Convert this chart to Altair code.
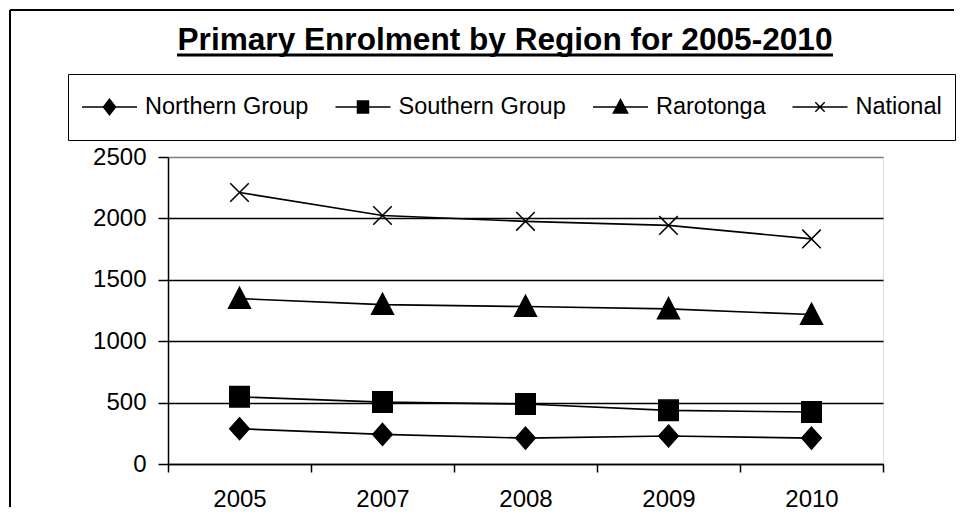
import altair as alt
import pandas as pd

# ---- data ----
years = ["2005", "2007", "2008", "2009", "2010"]
series = ["Northern Group", "Southern Group", "Rarotonga", "National"]
northern = [287, 241, 211, 228, 211]
southern = [547, 504, 488, 437, 423]
rarotonga = [1347, 1298, 1282, 1263, 1217]
national = [2211, 2024, 1976, 1943, 1833]
y_ticks = [0, 500, 1000, 1500, 2000, 2500]
title_text = "Primary Enrolment by Region for 2005-2010"

# marker shapes (plot) and legend symbols (line + marker)
marker_paths = [
    "M0,-1.12L1,0L0,1.12L-1,0Z",
    "M-1,-1.05H1V1.05H-1Z",
    "M0,-1.15L1.12,1L-1.12,1Z",
    "M-0.95,-0.95L0.95,0.95M-0.95,0.95L0.95,-0.95",
]
legend_paths = [
    "M-1,0H1M0,-0.28L0.22,0L0,0.28L-0.22,0Z",
    "M-1,0H1M-0.2,-0.22H0.2V0.22H-0.2Z",
    "M-1,0H1M0,-0.27L0.26,0.22L-0.26,0.22Z",
    "M-1,0H1M-0.17,-0.17L0.17,0.17M-0.17,0.17L0.17,-0.17",
]

values = {"Northern Group": northern, "Southern Group": southern,
          "Rarotonga": rarotonga, "National": national}
rows = []
for s in series:
    for yr, v in zip(years, values[s]):
        rows.append({"series": s, "year": yr, "value": v})
df = pd.DataFrame(rows)

FONT = "Liberation Sans"

X = alt.X(
    "year:N", sort=years,
    scale=alt.Scale(type="band", paddingInner=0, paddingOuter=0),
    axis=alt.Axis(title=None, labelAngle=0, tickBand="extent", tickSize=8,
                  tickWidth=1.5, tickColor="black", domainColor="black",
                  domainWidth=1.5, labelFont=FONT, labelFontSize=24,
                  labelColor="black", labelPadding=15, grid=False),
)
Y = alt.Y(
    "value:Q",
    scale=alt.Scale(domain=[0, 2500], nice=False),
    axis=alt.Axis(title=None, values=y_ticks, format="d", grid=True,
                  gridColor=alt.condition("datum.value === 2500", alt.value("#808080"), alt.value("black")),
                  gridWidth=1.6, domainColor="black", domainWidth=1.5,
                  tickColor="black", tickSize=10, tickWidth=1.5,
                  labelFont=FONT, labelFontSize=24, labelColor="black",
                  labelPadding=12),
)

base = alt.Chart(df)

lines = base.mark_line(color="black", strokeWidth=1.6).encode(
    x=X, y=Y, detail="series:N"
)

points = base.mark_point(filled=True, fill="black", stroke="black",
                         strokeWidth=1.5, size=380, opacity=1).encode(
    x=X, y=Y,
    shape=alt.Shape("series:N",
                    scale=alt.Scale(domain=series, range=marker_paths),
                    legend=None),
)

legend_layer = base.transform_filter("datum.value < 0").mark_point(
    filled=True, fill="black", stroke="black", strokeWidth=1.5, opacity=1
).encode(
    x=X, y=Y,
    shape=alt.Shape("series:N",
                    scale=alt.Scale(domain=series, range=legend_paths),
                    legend=alt.Legend(title=None, orient="none",
                                      legendX=-100, legendY=-83,
                                      direction="horizontal", columns=4,
                                      symbolSize=3025, symbolStrokeWidth=1.5,
                                      clipHeight=40,
                                      labelFont=FONT, labelFontSize=23.5,
                                      labelColor="black", labelOffset=7,
                                      columnPadding=25.5, padding=13,
                                      strokeColor="black", fillColor="white",
                                      labelLimit=0)),
)

deco = alt.Chart(pd.DataFrame({"k": [0]}))
frame_top = deco.mark_rule(color="black", strokeWidth=2).encode(
    x=alt.value(-158), x2=alt.value(786), y=alt.value(-147))
frame_left = deco.mark_rule(color="black", strokeWidth=2).encode(
    x=alt.value(-158), y=alt.value(-147), y2=alt.value(350))
title = deco.mark_text(font=FONT, fontSize=31.6, fontWeight="bold",
                       color="black", align="center",
                       baseline="alphabetic").encode(
    text=alt.value(title_text), x=alt.value(337), y=alt.value(-107))
underline = deco.mark_rule(color="black", strokeWidth=3).encode(
    x=alt.value(9), x2=alt.value(665), y=alt.value(-102))

chart = alt.layer(
    frame_top, frame_left, title, underline, lines, points, legend_layer
).resolve_scale(shape="independent").properties(
    width=715, height=307,
    padding={"left": 1, "top": 1, "right": 0, "bottom": 0},
).configure_view(stroke="#808080", strokeWidth=1.5).configure(background="white")

chart.save("out.html", embed_options={"renderer": "svg", "actions": False})
